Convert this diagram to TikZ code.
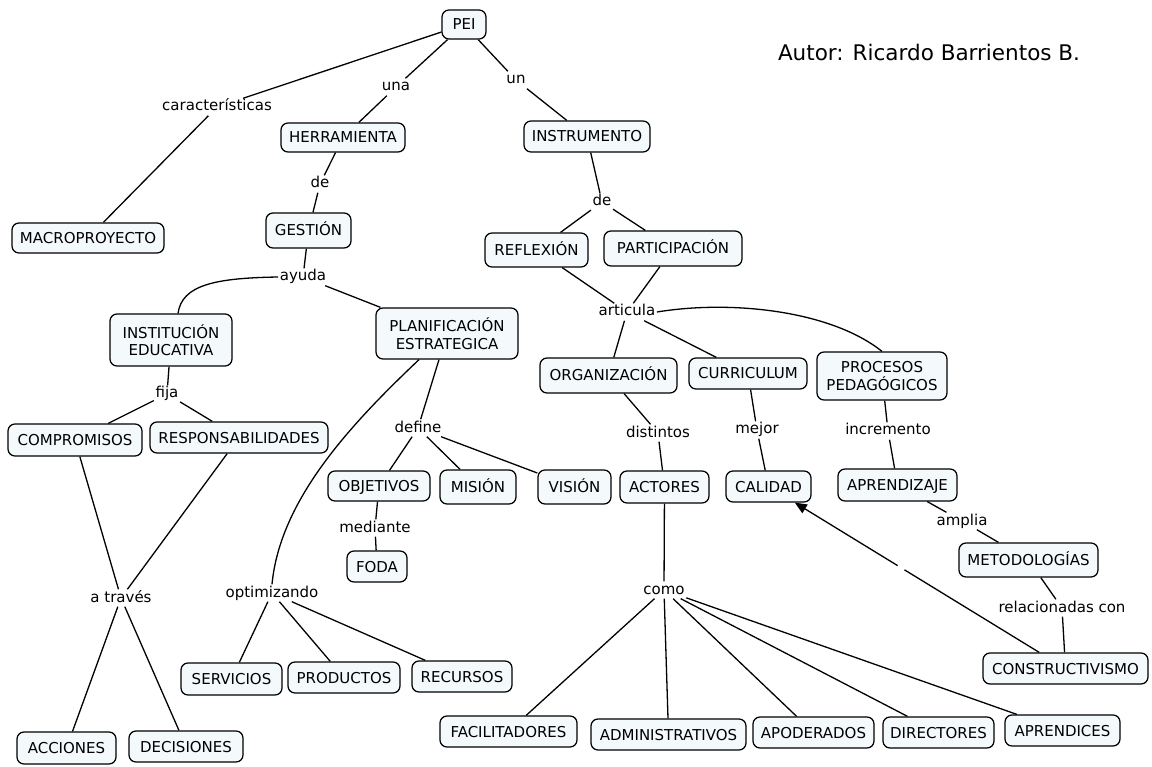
\documentclass[tikz,border=0pt]{standalone}
\usepackage{fontspec}
\setmainfont{DejaVu Sans}
\usetikzlibrary{arrows.meta}
\definecolor{boxfill}{RGB}{244,249,252}
\begin{document}
\begin{tikzpicture}[x=1pt,y=-1pt,
  concept/.style={draw=black, line width=1.25pt, rounded corners=7pt, fill=boxfill,
    inner sep=0pt, font=\fontsize{15}{17.5}\selectfont, text height=11pt, text depth=0pt},
  concepttwo/.style={draw=black, line width=1.25pt, rounded corners=7pt, fill=boxfill,
    inner sep=0pt, align=center, font=\fontsize{15}{17.5}\selectfont},
  linkword/.style={inner sep=1.5pt, font=\fontsize{15}{17.5}\selectfont,
    text height=11pt, text depth=3pt},
  conn/.style={line width=1.3pt, draw=black}
]
\useasboundingbox (0,0) rectangle (1152,767);

% ---- concepts ----
\node[concept, minimum width=44pt, minimum height=29pt] (pei) at (464,24.5) {PEI};
\node[concept, minimum width=126pt, minimum height=31pt] (instr) at (587,136.5) {INSTRUMENTO};
\node[concept, minimum width=124pt, minimum height=29pt] (herr) at (343,137.5) {HERRAMIENTA};
\node[concept, minimum width=152pt, minimum height=30pt] (macro) at (88,238) {MACROPROYECTO};
\node[concept, minimum width=85pt, minimum height=35pt] (gest) at (308.5,230.5) {GESTIÓN};
\node[concepttwo, minimum width=122pt, minimum height=52pt] (inst) at (171,340) {INSTITUCIÓN\\EDUCATIVA};
\node[concepttwo, minimum width=142pt, minimum height=51pt] (plan) at (447,333.5) {PLANIFICACIÓN\\ESTRATEGICA};
\node[concept, minimum width=134pt, minimum height=32pt] (comp) at (75,440) {COMPROMISOS};
\node[concept, minimum width=178pt, minimum height=31pt] (resp) at (239,437.5) {RESPONSABILIDADES};
\node[concept, minimum width=103pt, minimum height=34pt] (refl) at (536.5,250) {REFLEXIÓN};
\node[concept, minimum width=138pt, minimum height=35pt] (part) at (673,248.5) {PARTICIPACIÓN};
\node[concept, minimum width=137pt, minimum height=35pt] (org) at (608.5,375.5) {ORGANIZACIÓN};
\node[concept, minimum width=118pt, minimum height=31pt] (curr) at (748,373.5) {CURRICULUM};
\node[concepttwo, minimum width=130pt, minimum height=48pt] (proc) at (882,376) {PROCESOS\\PEDAGÓGICOS};
\node[concept, minimum width=102pt, minimum height=30pt] (obj) at (379,486) {OBJETIVOS};
\node[concept, minimum width=76pt, minimum height=34pt] (mis) at (478,487) {MISIÓN};
\node[concept, minimum width=73pt, minimum height=34pt] (vis) at (574.5,487) {VISIÓN};
\node[concept, minimum width=60pt, minimum height=31pt] (foda) at (377,566.5) {FODA};
\node[concept, minimum width=101pt, minimum height=32pt] (serv) at (231.5,679) {SERVICIOS};
\node[concept, minimum width=112pt, minimum height=31pt] (prod) at (344,677.5) {PRODUCTOS};
\node[concept, minimum width=100pt, minimum height=31pt] (rec) at (462,676.5) {RECURSOS};
\node[concept, minimum width=99pt, minimum height=32pt] (acc) at (66.5,748) {ACCIONES};
\node[concept, minimum width=114pt, minimum height=31pt] (dec) at (186,746.5) {DECISIONES};
\node[concept, minimum width=89pt, minimum height=32pt] (act) at (664.5,487) {ACTORES};
\node[concept, minimum width=85pt, minimum height=31pt] (cal) at (768.5,486.5) {CALIDAD};
\node[concept, minimum width=119pt, minimum height=32pt] (apr) at (897.5,485) {APRENDIZAJE};
\node[concept, minimum width=139pt, minimum height=34pt] (met) at (1028.5,560) {METODOLOGÍAS};
\node[concept, minimum width=165pt, minimum height=31pt] (cons) at (1065.5,668.5) {CONSTRUCTIVISMO};
\node[concept, minimum width=137pt, minimum height=31pt] (fac) at (508.5,731.5) {FACILITADORES};
\node[concept, minimum width=155pt, minimum height=31pt] (adm) at (668.5,734.5) {ADMINISTRATIVOS};
\node[concept, minimum width=121pt, minimum height=31pt] (apo) at (813.5,732.5) {APODERADOS};
\node[concept, minimum width=111pt, minimum height=31pt] (dir) at (938.5,732.5) {DIRECTORES};
\node[concept, minimum width=115pt, minimum height=31pt] (apre) at (1062.5,730.5) {APRENDICES};

% ---- linking words ----
\node[linkword] (carac) at (217,107) {características};
\node[linkword] (una) at (396,87) {una};
\node[linkword] (un) at (516,80) {un};
\node[linkword] (deone) at (320,184) {de};
\node[linkword] (detwo) at (602,202) {de};
\node[linkword] (ayuda) at (303,277) {ayuda};
\node[linkword] (articula) at (627,312) {articula};
\node[linkword] (fija) at (167,394) {fija};
\node[linkword] (define) at (418,428) {define};
\node[linkword] (mediante) at (375,528) {mediante};
\node[linkword] (optim) at (272,593) {optimizando};
\node[linkword] (atraves) at (121,598) {a través};
\node[linkword] (distintos) at (658,433) {distintos};
\node[linkword] (mejor) at (757,430) {mejor};
\node[linkword] (incr) at (888,431) {incremento};
\node[linkword] (amplia) at (962,521) {amplia};
\node[linkword] (relac) at (1062,608) {relacionadas con};
\node[linkword] (como) at (664,590) {como};

\node[font=\fontsize{21.5}{25}\selectfont] (author) at (929,52) {Autor: Ricardo Barrientos B.};

% ---- connectors ----
\draw[conn] (pei) -- (carac);
\draw[conn] (carac) -- (macro);
\draw[conn] (pei) -- (una);
\draw[conn] (una) -- (herr);
\draw[conn] (pei) -- (un);
\draw[conn] (un) -- (instr);
\draw[conn] (herr) -- (deone);
\draw[conn] (deone) -- (gest);
\draw[conn] (gest) -- (ayuda);
\draw[conn] (ayuda.west) .. controls (215,278) and (182,285) .. ([xshift=7pt]inst.north);
\draw[conn] (ayuda) -- (plan);
\draw[conn] (inst) -- (fija);
\draw[conn] (fija) -- (comp);
\draw[conn] (fija) -- (resp);
\draw[conn] (comp) -- (atraves);
\draw[conn] (resp) -- (atraves);
\draw[conn] (atraves) -- (acc);
\draw[conn] (atraves) -- (dec);
\draw[conn] (plan) -- (define);
\draw[conn] ([xshift=-28pt]plan.south) .. controls (350,425) and (280,500) .. (optim.north);
\draw[conn] (define) -- (obj);
\draw[conn] (define) -- (mis);
\draw[conn] (define) -- (vis);
\draw[conn] (obj) -- (mediante);
\draw[conn] (mediante) -- (foda);
\draw[conn] (optim) -- (serv);
\draw[conn] (optim) -- (prod);
\draw[conn] (optim) -- (rec);
\draw[conn] (instr) -- (detwo);
\draw[conn] (detwo) -- (refl);
\draw[conn] (detwo) -- (part);
\draw[conn] (refl) -- (articula);
\draw[conn] (part) -- (articula);
\draw[conn] (articula) -- (org);
\draw[conn] (articula) -- (curr);
\draw[conn] (articula.east) .. controls (730,300) and (830,310) .. (proc.north);
\draw[conn] (org) -- (distintos);
\draw[conn] (distintos) -- (act);
\draw[conn] (curr) -- (mejor);
\draw[conn] (mejor) -- (cal);
\draw[conn] (proc) -- (incr);
\draw[conn] (incr) -- (apr);
\draw[conn] (apr) -- (amplia);
\draw[conn] (amplia) -- (met);
\draw[conn] (met) -- (relac);
\draw[conn] (relac) -- (cons);
\draw[conn, -{Triangle[length=12pt,width=10pt]}, dash pattern=on 158pt off 8pt on 400pt] (cons) -- (cal);
\draw[conn] (act) -- (como);
\draw[conn] (como) -- (fac);
\draw[conn] (como) -- (adm);
\draw[conn] (como) -- (apo);
\draw[conn] (como) -- (dir);
\draw[conn] (como) -- (apre);
\end{tikzpicture}
\end{document}
